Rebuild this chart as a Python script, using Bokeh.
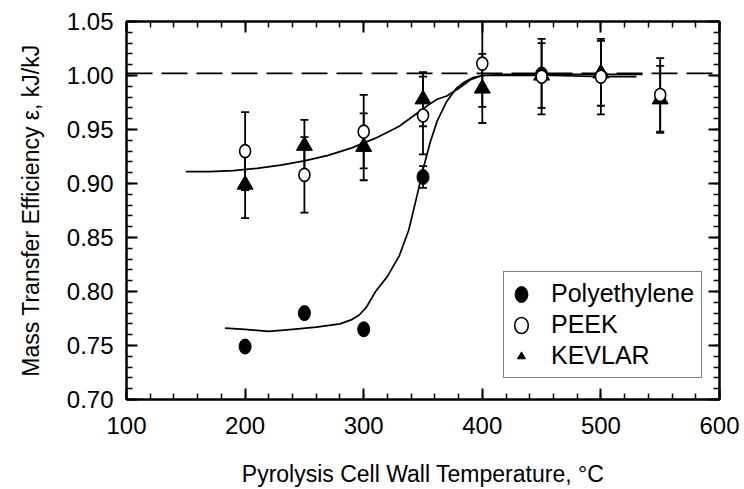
from bokeh.plotting import figure
from bokeh.models import (Range1d, LinearAxis, SingleIntervalTicker, NumeralTickFormatter,
                          Whisker, TeeHead, ColumnDataSource, Span, Legend, LegendItem)
from bokeh.embed import file_html
from bokeh.resources import INLINE

# ---------------- data ----------------
temps = [200, 250, 300, 350, 400, 450, 500, 550]

pe_temps = [200, 250, 300, 350, 450]
pe_eff = [0.749, 0.780, 0.765, 0.906, 1.001]
pe_err = [0.004, 0.005, 0.005, 0.010, 0.0]

peek_eff = [0.930, 0.908, 0.948, 0.963, 1.011, 0.999, 0.999, 0.982]
peek_err = [0.036, 0.035, 0.034, 0.036, 0.040, 0.035, 0.035, 0.034]

kevlar_eff = [0.899, 0.935, 0.934, 0.978, 0.988, 1.000, 1.002, 0.978]
kevlar_err = [0.031, 0.024, 0.031, 0.025, 0.032, 0.030, 0.030, 0.031]

fit_peek_T = [150, 170, 190, 210, 230, 250, 270, 290, 310, 330, 345, 355, 362,
              370, 380, 390, 400, 420, 460, 500, 535]
fit_peek_eff = [0.911, 0.911, 0.912, 0.914, 0.917, 0.921, 0.926, 0.933, 0.942,
                0.953, 0.965, 0.973, 0.978, 0.981, 0.988, 0.996, 1.000, 1.001,
                1.001, 1.001, 1.001]

fit_pe_T = [183, 200, 220, 240, 260, 280, 290, 296, 302, 310, 320, 330, 338, 345,
            350, 356, 362, 370, 378, 385, 392, 400, 420, 460, 500, 530]
fit_pe_eff = [0.766, 0.765, 0.763, 0.765, 0.767, 0.770, 0.774, 0.778, 0.785, 0.800,
              0.814, 0.833, 0.857, 0.889, 0.913, 0.938, 0.958, 0.976, 0.988, 0.994,
              0.998, 1.000, 1.000, 1.000, 0.999, 0.999]

ideal_eff = 1.002

x_label = "Pyrolysis Cell Wall Temperature, °C"
y_label = "Mass Transfer Efficiency ε, kJ/kJ"
series_names = ["Polyethylene", "PEEK", "KEVLAR"]

FONT = "Liberation Sans"

# ---------------- figure ----------------
p = figure(width=744, height=489, x_range=Range1d(100, 600), y_range=Range1d(0.70, 1.05),
           output_backend="svg", toolbar_location=None,
           min_border_left=126, min_border_right=25, min_border_top=21, min_border_bottom=89)
p.xgrid.visible = False
p.ygrid.visible = False
p.outline_line_color = "black"
p.outline_line_width = 2
p.background_fill_color = "white"
p.border_fill_color = "white"


def style_axis(ax, ticker, labels=True):
    ax.ticker = ticker
    ax.axis_line_width = 2
    ax.axis_line_color = "black"
    ax.major_tick_line_width = 2
    ax.minor_tick_line_width = 1.5
    ax.major_tick_in = 11
    ax.major_tick_out = 0
    ax.minor_tick_in = 6
    ax.minor_tick_out = 0
    ax.major_label_text_font = FONT
    ax.axis_label_text_font = FONT
    ax.axis_label_text_font_style = "normal"
    ax.axis_label_text_color = "black"
    ax.major_label_text_color = "black"
    if labels:
        ax.major_label_text_font_size = "24px"
        ax.axis_label_text_font_size = "23px"
    else:
        ax.major_label_text_font_size = "1px"
        ax.major_label_text_color = None
        ax.major_label_standoff = 0
        ax.axis_label = None


xt = lambda: SingleIntervalTicker(interval=100, num_minor_ticks=5)
yt = lambda: SingleIntervalTicker(interval=0.05, num_minor_ticks=5)

xax = p.xaxis[0]
style_axis(xax, xt())
xax.axis_label = x_label
xax.major_label_standoff = 17
xax.axis_label_standoff = 24

yax = p.yaxis[0]
style_axis(yax, yt())
yax.axis_label = y_label
yax.formatter = NumeralTickFormatter(format="0.00")
yax.major_label_standoff = 13
yax.axis_label_standoff = 20

top = LinearAxis()
style_axis(top, xt(), labels=False)
p.add_layout(top, "above")
right = LinearAxis()
style_axis(right, yt(), labels=False)
p.add_layout(right, "right")

# ---------------- reference line ----------------
p.add_layout(Span(location=ideal_eff, dimension="width", line_color="black",
                  line_width=1.6, line_dash="26 9", level="underlay"))

# ---------------- fit curves ----------------
p.line(fit_peek_T, fit_peek_eff, line_color="black", line_width=1.7)
p.line(fit_pe_T, fit_pe_eff, line_color="black", line_width=1.7)


# ---------------- error bars ----------------
def add_whisker(xs, ys, errs):
    src = ColumnDataSource(dict(x=xs,
                                upper=[y + e for y, e in zip(ys, errs)],
                                lower=[y - e for y, e in zip(ys, errs)]))
    w = Whisker(base="x", upper="upper", lower="lower", source=src,
                line_color="black", line_width=1.8, level="underlay",
                upper_head=TeeHead(size=8, line_width=1.8, line_color="black"),
                lower_head=TeeHead(size=8, line_width=1.8, line_color="black"))
    p.add_layout(w)


add_whisker(pe_temps, pe_eff, pe_err)
add_whisker(temps, peek_eff, peek_err)
add_whisker(temps, kevlar_eff, kevlar_err)

# ---------------- markers ----------------
r_pe = p.ellipse(x=pe_temps, y=pe_eff, width=12, height=15,
                 width_units="screen", height_units="screen",
                 fill_color="black", line_color="black", line_width=1)
r_kev = p.scatter(x=temps, y=kevlar_eff, marker="triangle", size=16,
                  fill_color="black", line_color="black")
r_peek = p.ellipse(x=temps, y=peek_eff, width=11, height=13,
                   width_units="screen", height_units="screen",
                   fill_color="white", line_color="black", line_width=1.6)

legend = Legend(items=[LegendItem(label=series_names[0], renderers=[r_pe]),
                       LegendItem(label=series_names[1], renderers=[r_peek]),
                       LegendItem(label=series_names[2], renderers=[r_kev])],
                location=(377, 21))
legend.label_text_font = FONT
legend.label_text_font_size = "25px"
legend.label_text_color = "black"
legend.glyph_width = 20
legend.glyph_height = 24
legend.label_height = 24
legend.label_standoff = 20
legend.padding = 7
legend.spacing = 2
legend.margin = 0
legend.border_line_color = "black"
legend.border_line_width = 1.5
legend.background_fill_color = "white"
legend.background_fill_alpha = 1
p.add_layout(legend, "center")

open("out.html", "w").write(file_html(p, INLINE))
